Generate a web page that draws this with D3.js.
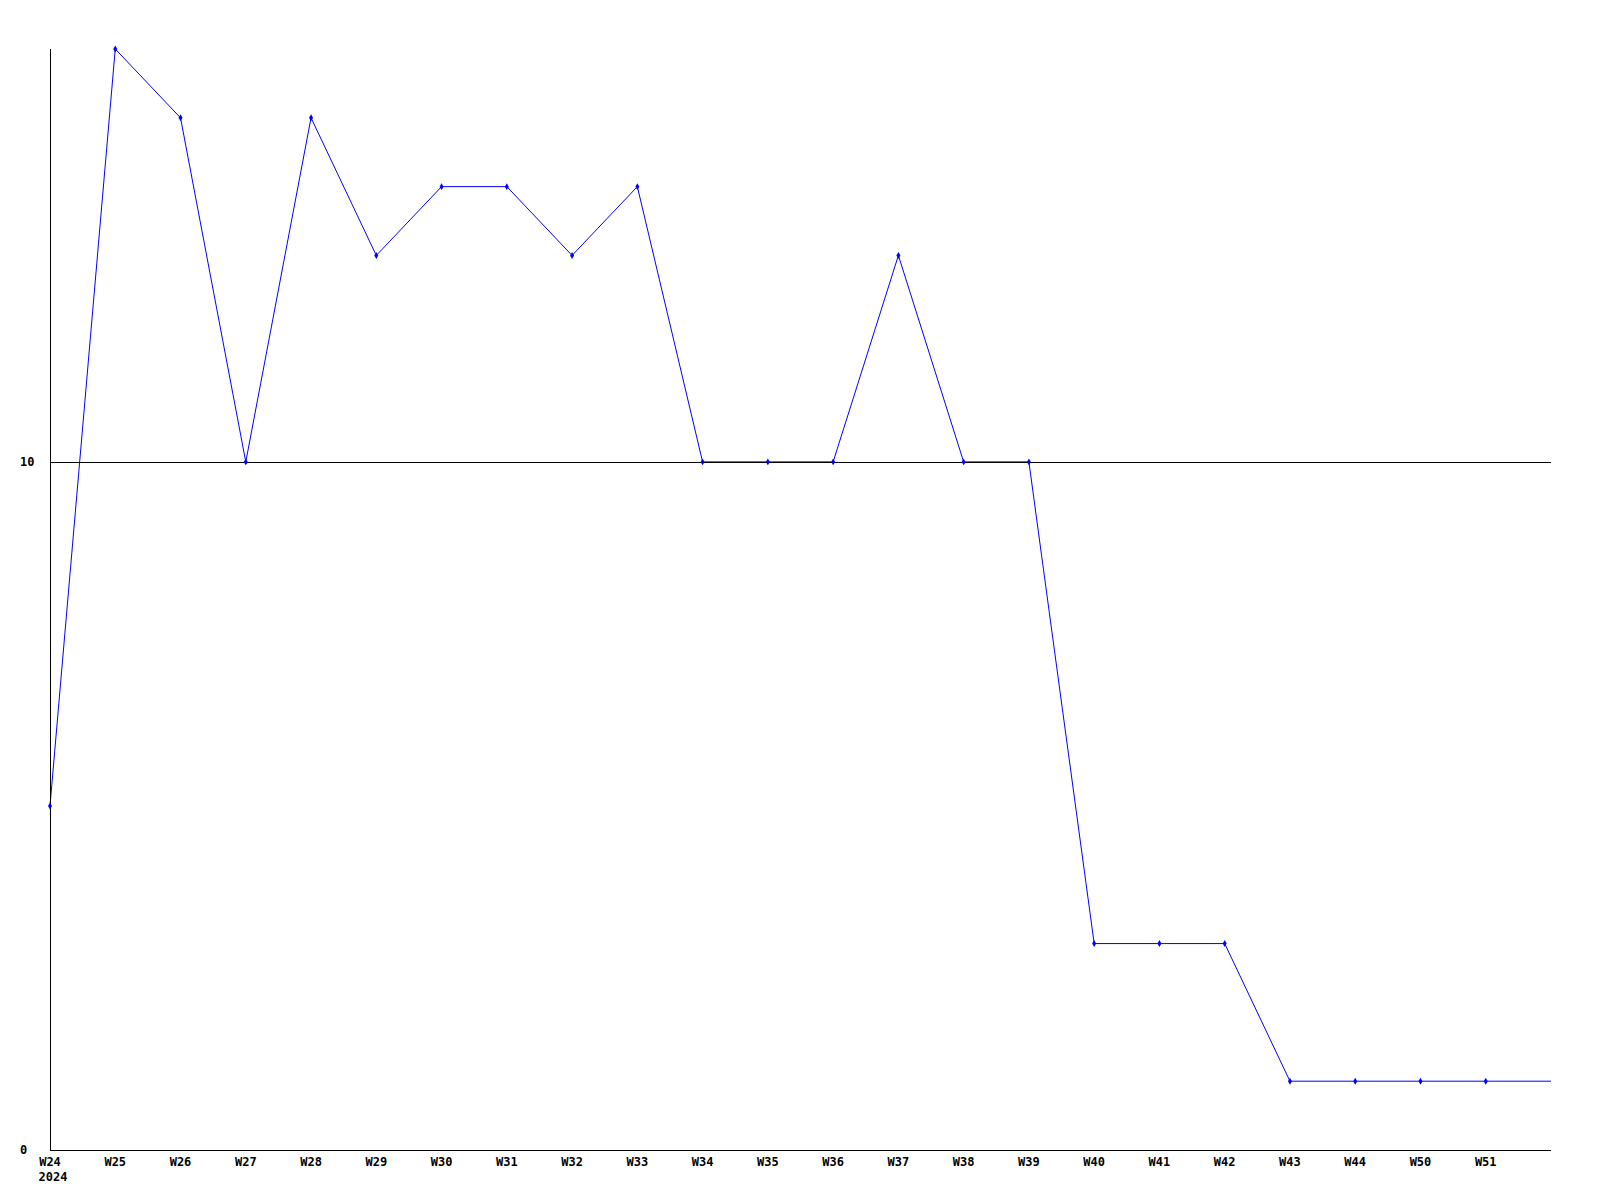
<!DOCTYPE html>
<html><head><meta charset="utf-8">
<script src="https://cdn.jsdelivr.net/npm/d3@7"></script>
<style>body{margin:0;background:#fff}</style>
</head><body>
<svg id="c" width="1600" height="1200"></svg>
<script>
const categories = ["W24","W25","W26","W27","W28","W29","W30","W31","W32","W33","W34","W35","W36","W37","W38","W39","W40","W41","W42","W43","W44","W50","W51",""];
const values = [5,16,15,10,15,13,14,14,13,14,10,10,10,13,10,10,3,3,3,1,1,1,1,1];
const yTicks = [0,10];
const yearLabel = "2024";

(function(){
const svg = d3.select("#c");
const mLeft = 50, mRight = 1551, mTop = 49, mBottom = 1150;
const x = d3.scaleLinear().domain([0, categories.length - 1]).range([mLeft, mRight]);
const y = d3.scaleLinear().domain([0, 16]).range([mBottom, mTop]);
const font = "'DejaVu Sans Mono', monospace";
const fs = 12;

const line = d3.line().x((d, i) => x(i)).y(d => y(d));
svg.append("path").datum(values).attr("d", line).attr("fill", "none").attr("stroke", "#0000ff").attr("stroke-width", 1);

svg.selectAll("line.grid").data(yTicks.filter(d => d > 0)).enter().append("line")
  .attr("x1", mLeft).attr("x2", mRight).attr("y1", d => Math.round(y(d)) + 0.5).attr("y2", d => Math.round(y(d)) + 0.5)
  .attr("stroke", "#000").attr("stroke-width", 1);

svg.append("line").attr("x1", mLeft + 0.5).attr("x2", mLeft + 0.5).attr("y1", mTop).attr("y2", mBottom).attr("stroke", "#000");
svg.append("line").attr("x1", mLeft).attr("x2", mRight).attr("y1", mBottom + 0.5).attr("y2", mBottom + 0.5).attr("stroke", "#000");

svg.selectAll("text.y").data(yTicks).enter().append("text")
  .attr("x", 20).attr("y", d => y(d) + 4)
  .attr("font-family", font).attr("font-weight", "bold").attr("font-size", fs)
  .text(d => d);

svg.selectAll("text.x").data(categories).enter().append("text")
  .attr("x", (d, i) => x(i)).attr("y", mBottom + 16).attr("text-anchor", "middle")
  .attr("font-family", font).attr("font-weight", "bold").attr("font-size", fs)
  .text(d => d);
svg.append("text").attr("x", x(0) + 3).attr("y", mBottom + 31).attr("text-anchor", "middle")
  .attr("font-family", font).attr("font-weight", "bold").attr("font-size", fs).text(yearLabel);

svg.selectAll("path.m").data(values.slice(0, categories.filter(c => c).length)).enter().append("path")
  .attr("transform", (d, i) => `translate(${x(i)},${y(d)})`)
  .attr("d", d3.symbol(d3.symbolDiamond, 14)).attr("fill", "#0000ff");
})();
</script>
</body></html>
